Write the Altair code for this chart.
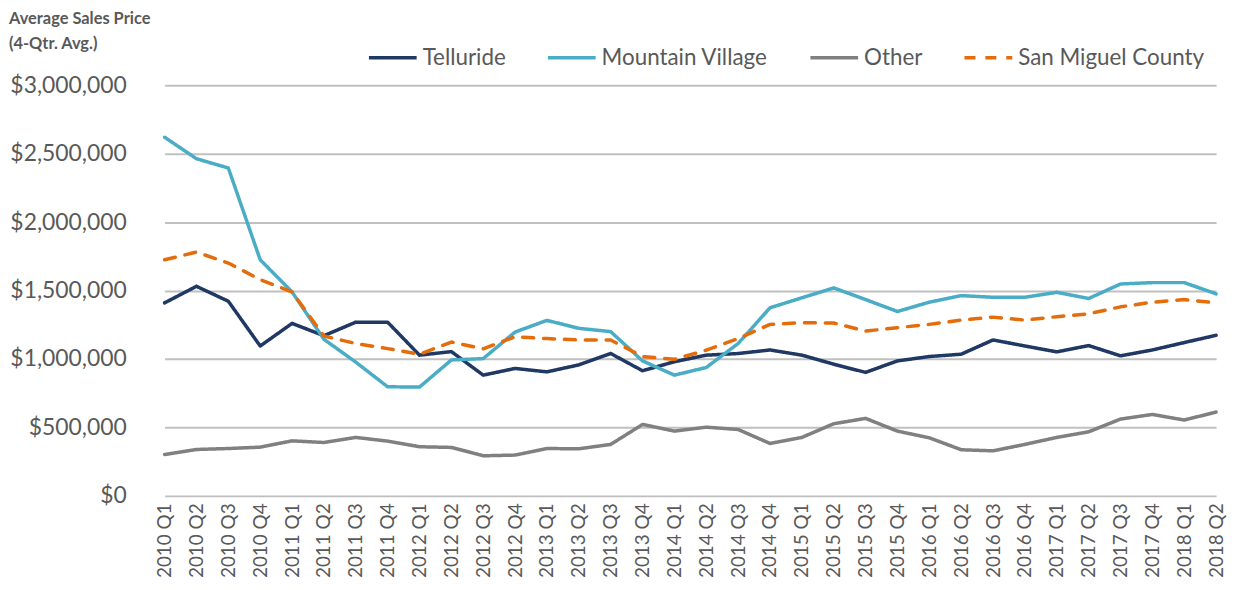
import altair as alt
import pandas as pd

quarters = [f"{y} Q{q}" for y in range(2010, 2019) for q in range(1, 5)][:34]

telluride = [1.410, 1.531, 1.422, 1.095, 1.260, 1.170, 1.269, 1.269, 1.028, 1.054,
             0.882, 0.931, 0.906, 0.957, 1.040, 0.914, 0.980, 1.028, 1.040, 1.066,
             1.028, 0.962, 0.902, 0.986, 1.018, 1.035, 1.139, 1.095, 1.052, 1.098,
             1.023, 1.066, 1.120, 1.173]
mountain_village = [2.620, 2.463, 2.395, 1.725, 1.490, 1.144, 0.977, 0.797, 0.795, 0.993,
                    1.003, 1.197, 1.282, 1.224, 1.200, 0.986, 0.882, 0.938, 1.113, 1.374,
                    1.447, 1.519, 1.434, 1.347, 1.415, 1.463, 1.451, 1.451, 1.487, 1.442,
                    1.548, 1.558, 1.558, 1.476]
other = [0.302, 0.339, 0.346, 0.356, 0.402, 0.390, 0.427, 0.400, 0.359, 0.354,
         0.293, 0.298, 0.346, 0.344, 0.376, 0.522, 0.473, 0.502, 0.485, 0.383,
         0.427, 0.527, 0.566, 0.473, 0.424, 0.337, 0.329, 0.376, 0.427, 0.468,
         0.561, 0.595, 0.554, 0.612]
san_miguel = [1.725, 1.781, 1.701, 1.580, 1.490, 1.168, 1.113, 1.076, 1.035, 1.124,
              1.074, 1.163, 1.149, 1.139, 1.139, 1.018, 0.998, 1.064, 1.149, 1.253,
              1.265, 1.263, 1.204, 1.229, 1.253, 1.284, 1.306, 1.284, 1.309, 1.330,
              1.381, 1.415, 1.434, 1.410]

series_names = ["Telluride", "Mountain Village", "Other", "San Miguel County"]
series_colors = ["#203864", "#4BACC6", "#808080", "#E46C0A"]
series_dash = [[1, 0], [1, 0], [1, 0], [11, 10]]
title_text = "Average Sales Price\n(4-Qtr. Avg.)"

rows = []
for name, vals in zip(series_names, [telluride, mountain_village, other, san_miguel]):
    for q, v in zip(quarters, vals):
        rows.append({"Quarter": q, "Series": name, "Price": v * 1_000_000})
df = pd.DataFrame(rows)

FONT = "Lato"
TXT = "#595959"


def legend():
    return alt.Legend(title=None, orient="none", direction="horizontal",
                      columns=4, legendX=220, legendY=-54,
                      symbolType="stroke", symbolSize=2304,
                      symbolStrokeWidth=4, labelFontSize=22.5, labelLimit=400,
                      labelFont=FONT, labelColor=TXT, labelOffset=4,
                      columnPadding=35)


lines = alt.Chart(df).mark_line(strokeCap="round", strokeJoin="round").encode(
    x=alt.X("Quarter:O", sort=quarters,
            scale=alt.Scale(type="point", padding=0, range=[16.5, 1074]),
            axis=alt.Axis(title=None, labelAngle=-90, labelFontSize=19, labelFont=FONT,
                          labelColor=TXT, ticks=False, domain=False, labelPadding=7,
                          grid=False)),
    y=alt.Y("Price:Q", scale=alt.Scale(domain=[0, 3000000], nice=False),
            axis=alt.Axis(title=None, values=[0, 500000, 1000000, 1500000, 2000000, 2500000, 3000000],
                          format="$,.0f", labelFontSize=23, labelFont=FONT, labelColor=TXT,
                          ticks=False, domain=False, labelPadding=22,
                          gridColor="#C0C0C0", gridWidth=2)),
    color=alt.Color("Series:N", sort=series_names,
                    scale=alt.Scale(domain=series_names, range=series_colors),
                    legend=legend()),
    strokeDash=alt.StrokeDash("Series:N", sort=series_names,
                              scale=alt.Scale(domain=series_names, range=series_dash),
                              legend=legend()),
    strokeWidth=alt.StrokeWidth("Series:N", sort=series_names,
                                scale=alt.Scale(domain=series_names, range=[3.5, 3.5, 3.5, 4.5]),
                                legend=None),
    order=alt.Order("Series:N"),
)

title = alt.Chart(pd.DataFrame({"t": [title_text]})).mark_text(
    align="left", baseline="top", font=FONT, fontWeight="bold", fontSize=16.5,
    color=TXT, lineBreak="\n", lineHeight=26
).encode(text="t:N", x=alt.value(-140), y=alt.value(-75))

chart = alt.layer(lines, title).properties(
    width=1082, height=413,
    autosize=alt.AutoSizeParams(type="none"),
    padding={"left": 141, "top": 76, "right": 7, "bottom": 96},
).configure_view(stroke=None)

chart.save("out.html", embed_options={"renderer": "svg", "actions": False})
